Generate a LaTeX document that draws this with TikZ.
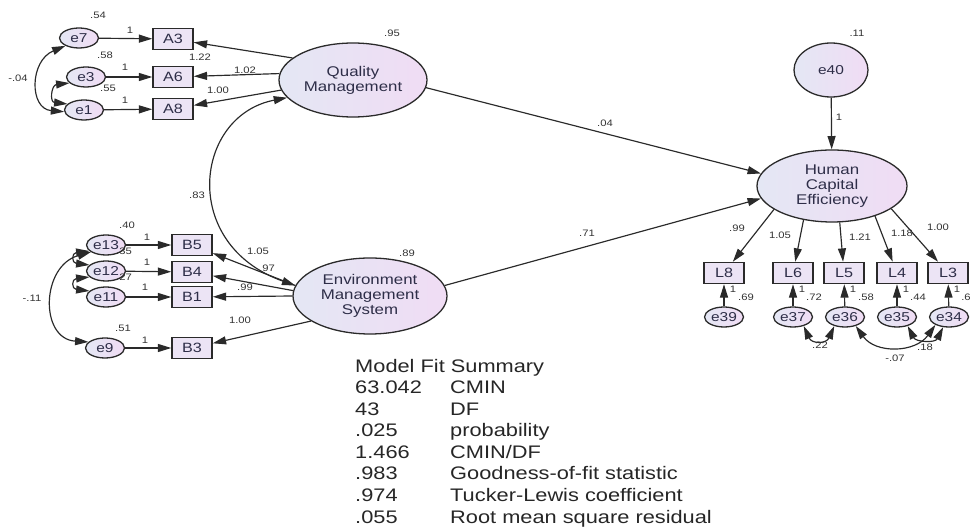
\documentclass[tikz,border=0pt]{standalone}
\usepackage{fontspec}
\setmainfont{Liberation Sans}[FakeStretch=1.2]
\usetikzlibrary{arrows.meta,shapes.geometric}
\definecolor{ellL}{HTML}{E4E7F4}
\definecolor{ellR}{HTML}{F0DCF4}
\definecolor{boxF}{HTML}{ECE4F5}
\definecolor{ink}{HTML}{2E2E48}
\definecolor{lineC}{HTML}{2A2A2A}
\newcommand\fntLat{\fontsize{12}{12.8}\selectfont}
\newcommand\fntObs{\fontsize{11.5}{12}\selectfont}
\newcommand\fntErr{\fontsize{11}{12}\selectfont}
\newcommand\fntLbl{\fontsize{8}{9}\selectfont}
\newcommand\fntFit{\fontsize{15.5}{17}\selectfont}
\begin{document}
\begin{tikzpicture}[x=0.3mm,y=-0.3mm,
 lat/.style={ellipse,draw=lineC,line width=1.1pt,left color=ellL,right color=ellR,inner sep=0pt,align=center,text=ink,font=\fntLat},
 err/.style={ellipse,draw=lineC,line width=1.1pt,left color=ellL,right color=ellR,inner sep=0pt,minimum width=11.7mm,minimum height=6mm,text=ink,font=\fntErr},
 obs/.style={rectangle,draw=lineC,line width=1.3pt,fill=boxF,inner sep=0pt,minimum width=12mm,minimum height=6.3mm,text=ink,font=\fntObs},
 lbl/.style={inner sep=0pt,text=black!80,font=\fntLbl},
 fitline/.style={inner sep=0pt,anchor=base west,text=black!85,font=\fntFit},
 arr/.style={draw=lineC,line width=1pt,-{Triangle[length=4mm,width=2.4mm]}},
 cov/.style={draw=lineC,line width=1pt,{Triangle[length=4mm,width=2.4mm]}-{Triangle[length=4mm,width=2.4mm]}},
]
\useasboundingbox (0,0) rectangle (970,527);

% latent variables
\node[lat,minimum width=44.4mm,minimum height=22.2mm] (QM) at (353,80) {Quality\\Management};
\node[lat,minimum width=46.2mm,minimum height=22.8mm] (EMS) at (370,296) {Environment\\Management\\System};
\node[lat,minimum width=45mm,minimum height=21.6mm] (HCE) at (832,186) {Human\\Capital\\Efficiency};
\node[lat,font=\fntErr,minimum width=22.2mm,minimum height=16.2mm] (e40) at (831,70) {e40};

% observed
\node[obs] (A3) at (173,39) {A3};
\node[obs] (A6) at (173,77) {A6};
\node[obs] (A8) at (173,109) {A8};
\node[obs] (B5) at (192,245) {B5};
\node[obs] (B4) at (192,272) {B4};
\node[obs] (B1) at (192,297) {B1};
\node[obs] (B3) at (192,348) {B3};
\node[obs] (L8) at (724,273) {L8};
\node[obs] (L6) at (793,273) {L6};
\node[obs] (L5) at (844,273) {L5};
\node[obs] (L4) at (897,273) {L4};
\node[obs] (L3) at (948,273) {L3};

% errors
\node[err] (e7) at (79,38) {e7};
\node[err] (e3) at (86,77) {e3};
\node[err] (e1) at (84,110) {e1};
\node[err] (e13) at (106,245) {e13};
\node[err] (e12) at (106,271) {e12};
\node[err] (e11) at (106,297) {e11};
\node[err] (e9) at (105,348) {e9};
\node[err] (e39) at (724,317) {e39};
\node[err] (e37) at (793,317) {e37};
\node[err] (e36) at (845,317) {e36};
\node[err] (e35) at (897,317) {e35};
\node[err] (e34) at (949,317) {e34};

% regression paths
\draw[arr] (e7) -- (A3);
\draw[arr] (e3) -- (A6);
\draw[arr] (e1) -- (A8);
\draw[arr] (QM.160) -- (A3);
\draw[arr] (QM.175) -- (A6);
\draw[arr] (QM.188) -- (A8);
\draw[arr] (e13) -- (B5);
\draw[arr] (e12) -- (B4);
\draw[arr] (e11) -- (B1);
\draw[arr] (e9) -- (B3);
\draw[arr] (EMS.172) -- (B5);
\draw[arr] (EMS.176) -- (B4);
\draw[arr] (EMS.180) -- (B1);
\draw[arr] (EMS.203) -- (B3);
\draw[arr] (QM.-6) -- (HCE.170);
\draw[arr] (EMS.8) -- (HCE.190);
\draw[arr] (e40) -- (HCE);
\draw[arr] (HCE.202) -- (L8);
\draw[arr] (HCE.230) -- (L6);
\draw[arr] (HCE.282) -- (L5);
\draw[arr] (HCE.325) -- (L4);
\draw[arr] (HCE.339) -- (L3);
\draw[arr] (e39) -- (L8);
\draw[arr] (e37) -- (L6);
\draw[arr] (e36) -- (L5);
\draw[arr] (e35) -- (L4);
\draw[arr] (e34) -- (L3);

% covariances
\draw[cov] (e7.210) .. controls +(-36,15) and +(-35,-3) .. (e1.185);
\draw[cov] (e3.200) .. controls +(-18,2) and +(-18,-2) .. (e1.160);
\draw[cov] (QM.195) .. controls +(-93,18) and +(-116,-41) .. (EMS.172);
\draw[cov] (e13.200) .. controls +(-18,2) and +(-18,-2) .. (e12.160);
\draw[cov] (e12.200) .. controls +(-18,2) and +(-18,-2) .. (e11.160);
\draw[cov] (e13.205) .. controls +(-50,14) and +(-49,-3) .. (e9.160);
\draw[cov] (e37.-40) .. controls +(8,18) and +(-8,18) .. (e36.-140);
\draw[cov] (e36.-40) .. controls +(20,28) and +(-20,28) .. (e34.-150);
\draw[cov] (e35.-40) .. controls +(8,16) and +(-8,16) .. (e34.-120);

% labels upper left
\node[lbl] (v54) at (98,15) {.54};
\node[lbl] (v58) at (105,55) {.58};
\node[lbl] (v55) at (108,88) {.55};
\node[lbl] (c04) at (18,78) {-.04};
\node[lbl] (o1a) at (130,30) {1};
\node[lbl] (o1b) at (125,67) {1};
\node[lbl] (o1c) at (125,100) {1};
\node[lbl] (wA3) at (200,57) {1.22};
\node[lbl] (wA6) at (245,70) {1.02};
\node[lbl] (wA8) at (218,90) {1.00};
\node[lbl] (v95) at (392,33) {.95};
\node[lbl] (c83) at (197,195) {.83};
% labels lower left
\node[lbl] (v40) at (127,225) {.40};
\node[lbl] (v35) at (124,251) {.35};
\node[lbl] (v27) at (124,277) {.27};
\node[lbl] (v51) at (123,328) {.51};
\node[lbl] (c11) at (32,298) {-.11};
\node[lbl] (o1d) at (147,237) {1};
\node[lbl] (o1e) at (147,262) {1};
\node[lbl] (o1f) at (145,287) {1};
\node[lbl] (o1g) at (145,340) {1};
\node[lbl] (wB5) at (258,251) {1.05};
\node[lbl] (wB4) at (267,268) {.97};
\node[lbl] (wB1) at (245,287) {.99};
\node[lbl] (wB3) at (240,320) {1.00};
\node[lbl] (v89) at (407,253) {.89};
% structural
\node[lbl] (s04) at (605,123) {.04};
\node[lbl] (s71) at (587,233) {.71};
\node[lbl] (v11) at (857,33) {.11};
\node[lbl] (o40) at (839,117) {1};
% right loadings
\node[lbl] (wL8) at (737,228) {.99};
\node[lbl] (wL6) at (780,235) {1.05};
\node[lbl] (wL5) at (860,237) {1.21};
\node[lbl] (wL4) at (902,233) {1.18};
\node[lbl] (wL3) at (938,227) {1.00};
\node[lbl] (oL8) at (733,289) {1};
\node[lbl] (oL6) at (802,289) {1};
\node[lbl] (oL5) at (853,289) {1};
\node[lbl] (oL4) at (906,289) {1};
\node[lbl] (oL3) at (957,289) {1};
\node[lbl] (v69) at (746,297) {.69};
\node[lbl] (v72) at (814,297) {.72};
\node[lbl] (v58b) at (866,297) {.58};
\node[lbl] (v44) at (918,297) {.44};
\node[lbl] (v6) at (966,297) {.6};
\node[lbl] (c22) at (820,345) {.22};
\node[lbl] (c07) at (895,358) {-.07};
\node[lbl] (c18) at (925,347) {.18};

% model fit summary
\node[fitline] (f0) at (355,373) {Model Fit Summary};
\node[fitline] (f1a) at (355,394) {63.042};
\node[fitline] (f1b) at (450,394) {CMIN};
\node[fitline] (f2a) at (355,415.5) {43};
\node[fitline] (f2b) at (450,415.5) {DF};
\node[fitline] (f3a) at (355,437) {.025};
\node[fitline] (f3b) at (450,437) {probability};
\node[fitline] (f4a) at (355,458.5) {1.466};
\node[fitline] (f4b) at (450,458.5) {CMIN/DF};
\node[fitline] (f5a) at (355,480) {.983};
\node[fitline] (f5b) at (450,480) {Goodness-of-fit statistic};
\node[fitline] (f6a) at (355,501.5) {.974};
\node[fitline] (f6b) at (450,501.5) {Tucker-Lewis coefficient};
\node[fitline] (f7a) at (355,523) {.055};
\node[fitline] (f7b) at (450,523) {Root mean square residual};
\end{tikzpicture}
\end{document}
